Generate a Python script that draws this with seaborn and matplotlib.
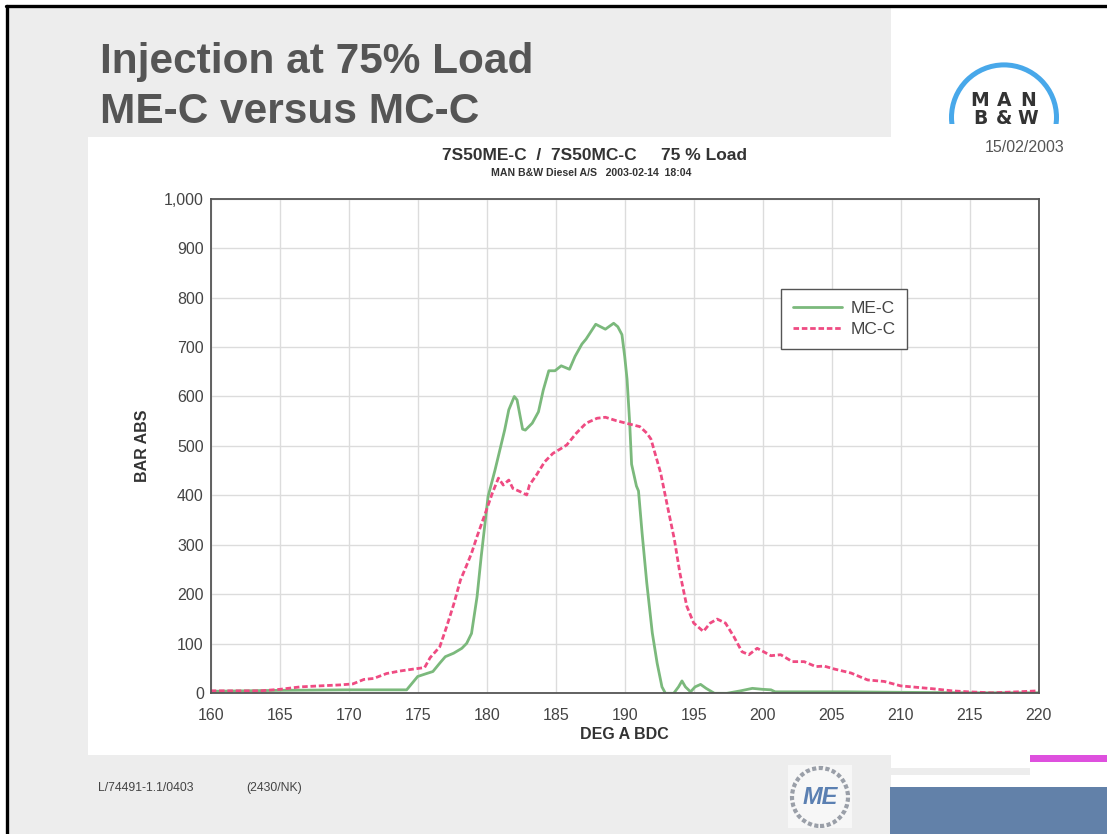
import matplotlib
matplotlib.use("Agg")
import matplotlib.pyplot as plt
import matplotlib.patches as mpatches
from matplotlib.ticker import FuncFormatter
import seaborn as sns
import pandas as pd

# ME-C injection pressure
me_deg = [160, 165, 170, 174.2, 175.0, 175.65, 176.1, 176.6, 177.0, 177.6, 178.2, 178.55,
          178.9, 179.3, 179.6, 180.1, 180.6, 181.3, 181.6, 182.0, 182.2, 182.6, 182.8,
          183.3, 183.75, 184.1, 184.5, 184.95, 185.4, 186.0, 186.4, 186.9, 187.2, 187.9,
          188.6, 189.2, 189.5, 189.8, 190.0, 190.17, 190.36, 190.5, 190.85, 191.0, 191.26,
          191.6, 192.0, 192.35, 192.7, 192.95, 193.55, 193.9, 194.15, 194.4, 194.77, 195.1,
          195.5, 195.9, 196.5, 197.4, 198.4, 199.25, 200.0, 200.6, 200.9, 203, 206, 210,
          215, 220]
me_bar = [4, 6, 7, 7, 34, 40, 44, 61, 74, 81, 91, 101,
          121, 195, 276, 398, 451, 532, 573, 600, 593, 534, 532,
          546, 569, 613, 652, 652, 662, 655, 681, 706, 716, 746,
          736, 748, 741, 725, 681, 635, 547, 463, 419, 409, 324,
          223, 122, 61, 13, 0, 0, 13, 25, 13, 3, 13,
          18, 10, 0, 0, 5, 10, 8, 7, 3, 3, 3, 2,
          1, 1]

# MC-C injection pressure
mc_deg = [160, 163.6, 165, 166.5, 167.9, 169.4, 170.3, 171.1, 171.8, 172.75, 173.7, 174.7,
          175.5, 175.9, 176.6, 177.1, 177.6, 178.1, 178.55, 178.9, 179.3, 179.9, 180.4,
          180.85, 181.2, 181.6, 181.9, 182.4, 182.9, 183.1, 183.6, 184.2, 184.8, 185.4,
          185.8, 186.5, 187.2, 188.0, 188.6, 189.4, 190.1, 191.1, 191.6, 191.9, 192.6,
          193.1, 193.6, 194.0, 194.5, 195.0, 195.7, 196.2, 196.7, 197.3, 197.9, 198.5,
          199.0, 199.6, 200.6, 201.3, 202.15, 203.0, 203.85, 204.45, 205.2, 206.4, 207.6,
          208.8, 210.0, 211.2, 212.4, 213.7, 214.9, 216.6, 218.5, 220]
mc_bar = [5, 5, 8, 13, 15, 17, 19, 28, 30, 40, 45, 49,
          52, 72, 94, 135, 179, 229, 259, 283, 317, 364, 404,
          435, 421, 431, 414, 408, 401, 421, 441, 468, 485, 495,
          502, 526, 546, 556, 558, 551, 546, 539, 526, 514, 446,
          378, 311, 243, 176, 142, 125, 142, 150, 142, 115, 84,
          78, 91, 76, 78, 64, 64, 54, 55, 49, 41, 27,
          24, 15, 12, 9, 5, 3, 1, 3, 5]

x_ticks = list(range(160, 221, 5))
y_ticks = list(range(0, 1001, 100))

W, H = 1107, 834


def box(x0, y0, x1, y1):
    # pixel box (from top-left) -> figure fraction rect
    return [x0 / W, 1 - y1 / H, (x1 - x0) / W, (y1 - y0) / H]


def rect(fig, x0, y0, x1, y1, color):
    l, b, w, h = box(x0, y0, x1, y1)
    fig.add_artist(mpatches.Rectangle((l, b), w, h, transform=fig.transFigure,
                                      facecolor=color, edgecolor='none', zorder=0))


sns.set_style("whitegrid")
plt.rcParams['font.family'] = ['Liberation Sans', 'DejaVu Sans']

fig = plt.figure(figsize=(W / 100, H / 100), dpi=100)
fig.patch.set_facecolor('white')

# slide background
rect(fig, 8, 7, 891, 834, '#ededed')
rect(fig, 88, 137, 891, 755, 'white')
rect(fig, 891, 768, 1030, 775, '#ededed')
rect(fig, 1030, 755, 1107, 762, '#de50de')
rect(fig, 890, 787, 1107, 834, '#6281a9')
fig.add_artist(plt.Line2D([6 / W, 1], [1 - 6 / H, 1 - 6 / H], transform=fig.transFigure,
                          color='black', lw=2.4))
fig.add_artist(plt.Line2D([7 / W, 7 / W], [0, 1 - 6 / H], transform=fig.transFigure,
                          color='black', lw=2.4))

# slide title
fig.text(100 / W, 1 - 72.7 / H, 'Injection at 75% Load', fontsize=30.5, fontweight='bold',
         color='#555555', va='baseline')
fig.text(100 / W, 1 - 123.3 / H, 'ME-C versus MC-C', fontsize=30.5, fontweight='bold',
         color='#555555', va='baseline')
fig.text(1065 / W, 1 - 151.7 / H, '15/02/2003', fontsize=11.5, color='#555555',
         ha='right', va='baseline')
fig.text(98 / W, 1 - 791 / H, 'L/74491-1.1/0403', fontsize=8.8, color='#444444', va='baseline')
fig.text(246 / W, 1 - 791 / H, '(2430/NK)', fontsize=8.8, color='#444444', va='baseline')

# chart title
fig.text(594.5 / W, 1 - 160 / H, '7S50ME-C  /  7S50MC-C     75 % Load', fontsize=12.5,
         fontweight='bold', color='#333333', ha='center', va='baseline')
fig.text(591 / W, 1 - 175.7 / H, 'MAN B&W Diesel A/S   2003-02-14  18:04', fontsize=7.6,
         fontweight='bold', color='#333333', ha='center', va='baseline')

# MAN B&W logo
lg = fig.add_axes(box(949, 62, 1059, 124))
lg.set_xlim(0, 110)
lg.set_ylim(0, 62)
lg.axis('off')
lg.add_patch(mpatches.Circle((55, 6.6), 52.5, fill=False, edgecolor='#48a8ea', lw=3.6))
for i, ch in enumerate('MAN'):
    lg.text(31 + 24 * i, 23, ch, fontsize=13.5, fontweight='heavy', color='#333333',
            family='DejaVu Sans', ha='center', va='center')
for i, ch in enumerate('B&W'):
    lg.text(31 + 24 * i, 6, ch, fontsize=13.5, fontweight='heavy', color='#333333',
            family='DejaVu Sans', ha='center', va='center', clip_on=True)

# ME logo
ml = fig.add_axes(box(788, 765, 852, 828))
ml.set_xlim(0, 64)
ml.set_ylim(0, 63)
ml.axis('off')
ml.add_patch(mpatches.Rectangle((0, 0), 64, 63, facecolor='#f7f7f7', edgecolor='none'))
ml.add_patch(mpatches.Ellipse((32, 31), 56, 58, fill=False, edgecolor='#9a9fa8', lw=3,
                              linestyle=(0, (1, 0.6))))
ml.text(32, 31, 'ME', fontsize=17, fontweight='bold', fontstyle='italic', color='#5b80b2',
        ha='center', va='center')

# chart
ax = fig.add_axes(box(210.7, 198.6, 1038.7, 693.3))
ax.set_facecolor('white')

df = pd.concat([
    pd.DataFrame({'deg': me_deg, 'bar': me_bar, 'engine': 'ME-C'}),
    pd.DataFrame({'deg': mc_deg, 'bar': mc_bar, 'engine': 'MC-C'}),
], ignore_index=True)

sns.lineplot(data=df, x='deg', y='bar', hue='engine', style='engine',
             palette={'ME-C': '#7bb97c', 'MC-C': '#ef4b82'},
             dashes={'ME-C': '', 'MC-C': (2, 1)},
             estimator=None, sort=False, lw=2.0, ax=ax, legend=False)

ax.set_xlim(160, 220)
ax.set_ylim(0, 1000)
ax.set_xticks(x_ticks)
ax.set_yticks(y_ticks)
ax.yaxis.set_major_formatter(FuncFormatter(lambda v, p: f'{v:,.0f}'))
ax.grid(True, color='#dcdcdc', lw=1)
for s in ax.spines.values():
    s.set_visible(True)
    s.set_color('#555555')
    s.set_linewidth(1.3)
ax.tick_params(axis='both', length=0, labelsize=11.5, colors='#444444')
ax.tick_params(axis='x', pad=10.5)
ax.tick_params(axis='y', pad=5)
ax.set_xlabel('DEG A BDC', fontsize=11.5, fontweight='bold', color='#333333', labelpad=3)
ax.set_ylabel('BAR ABS', fontsize=11.5, fontweight='bold', color='#333333', labelpad=10)

leg = ax.legend(ax.get_lines()[:2], ['ME-C', 'MC-C'], loc='upper left',
                bbox_to_anchor=(0.689, 0.817), fontsize=12.5, frameon=True, fancybox=False,
                framealpha=1, edgecolor='#555555', handlelength=2.85, borderpad=0.68,
                labelspacing=0.32, handletextpad=0.45, borderaxespad=0)
leg.get_frame().set_linewidth(1.0)
for t in leg.get_texts():
    t.set_color('#444444')

fig.savefig('out.png', dpi=100, facecolor=fig.get_facecolor())
